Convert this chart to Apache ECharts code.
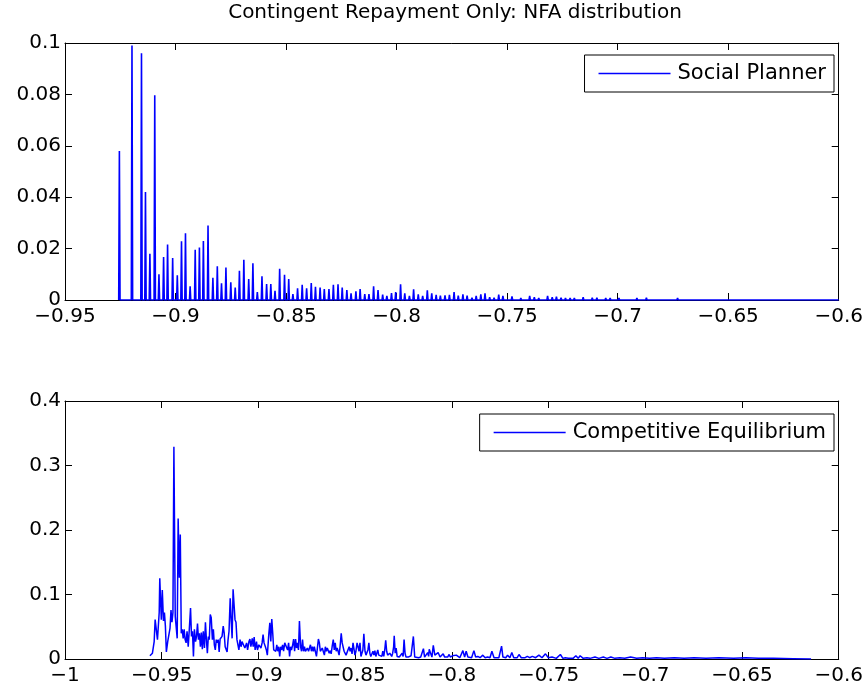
<!DOCTYPE html>
<html><head><meta charset="utf-8">
<script src="https://cdn.jsdelivr.net/npm/echarts@6/dist/echarts.min.js"></script>
<style>html,body{margin:0;padding:0;background:#fff}#c{width:866px;height:694px}</style>
</head><body><div id="c"></div>
<script>
// ---------- DATA ----------
const chartTitle = 'Contingent Repayment Only: NFA distribution';
const seriesNames = ['Social Planner', 'Competitive Equilibrium'];

const topXTicks = [-0.95, -0.9, -0.85, -0.8, -0.75, -0.7, -0.65, -0.6];
const topYTicks = [0, 0.02, 0.04, 0.06, 0.08, 0.1];
const botXTicks = [-1, -0.95, -0.9, -0.85, -0.8, -0.75, -0.7, -0.65, -0.6];
const botYTicks = [0, 0.1, 0.2, 0.3, 0.4];

// Social planner: mass points (NFA value, probability)
const spX = [-0.9254,-0.9197,-0.9154,-0.9136,-0.9116,-0.9094,-0.9075,-0.9054,-0.9036,-0.9013,
-0.8992,-0.8973,-0.8955,-0.8934,-0.8911,-0.8892,-0.8874,-0.8853,-0.8831,-0.8811,
-0.8792,-0.8772,-0.8750,-0.8730,-0.8711,-0.8691,-0.8669,-0.8650,-0.8630,-0.8609,
-0.8588,-0.8569,-0.8550,-0.8529,-0.8507,-0.8488,-0.8469,-0.8448,-0.8427,-0.8407,
-0.8386,-0.8367,-0.8346,-0.8327,-0.8306,-0.8286,-0.8265,-0.8246,-0.8225,-0.8206,
-0.8184,-0.8165,-0.8144,-0.8125,-0.8104,-0.8084,-0.8063,-0.8044,-0.8023,-0.8004,
-0.7982,-0.7963,-0.7942,-0.7923,-0.7902,-0.7882,-0.7861,-0.7841,-0.7821,-0.7802,
-0.7781,-0.7761,-0.7740,-0.7721,-0.7700,-0.7681,-0.7659,-0.7640,-0.7619,-0.7600,
-0.7579,-0.7559,-0.7538,-0.7519,-0.7478,-0.7457,-0.7438,-0.7417,-0.7398,-0.7377,
-0.7357,-0.7336,-0.7317,-0.7296,-0.7277,-0.7256,-0.7236,-0.7215,-0.7196,-0.7175,
-0.7156,-0.7134,-0.7115,-0.7094,-0.7075,-0.7054,-0.7034,-0.6994,-0.6975,-0.6954,
-0.6934,-0.6913,-0.6892,-0.6870,-0.6832,-0.6810,-0.6791,-0.6771,-0.6729,-0.6710,
-0.6690,-0.6629,-0.6607,-0.6568,-0.6487,-0.6406,-0.6366,-0.6204,-0.6143,-0.6062,
-0.6025];
const spY = [0.058,0.099,0.096,0.042,0.018,0.0797,0.010,0.0167,0.0216,0.0163,
0.0096,0.0229,0.026,0.0053,0.0195,0.0204,0.023,0.029,0.0086,0.0131,
0.0065,0.0126,0.0069,0.0048,0.0114,0.0157,0.0082,0.0143,0.0031,0.0092,
0.0062,0.0062,0.0036,0.0122,0.0098,0.0082,0.0023,0.0046,0.0059,0.0046,
0.0066,0.0051,0.0048,0.0043,0.0043,0.0059,0.0061,0.0048,0.0039,0.0026,
0.0034,0.0043,0.0023,0.0023,0.0053,0.0039,0.0021,0.0016,0.0027,0.0031,
0.0061,0.0026,0.0016,0.0042,0.0022,0.0016,0.0038,0.0026,0.0020,0.0017,
0.0018,0.002,0.0031,0.0017,0.0022,0.0017,0.0009,0.0016,0.0022,0.0026,
0.0011,0.0009,0.0021,0.0016,0.0014,0.0004,0.0008,0.0005,0.0016,0.0011,
0.0008,0.0005,0.0016,0.0011,0.0013,0.0009,0.0008,0.0008,0.0008,0.0007,
0.0011,0.0003,0.0009,0.0009,0.0004,0.0008,0.0008,0.0008,0.0007,0.0007,
0.0004,0.0008,0.0003,0.0009,0.0004,0.0003,0.0004,0.0004,0.0008,0.0003,
0.0004,0.0004,0.0002,0.0002,0.0002,0.0002,0.0001,0.0004,0.0001,0.0001,
0.0007];
const spGridEnd = -0.6;   // last grid point of the planner's distribution (value 0)

// Competitive equilibrium: density on the NFA grid
const ceX = [-0.9561,-0.9548,-0.9539,-0.9534,-0.9527,-0.9522,-0.9517,-0.9513,-0.9510,-0.9505,
-0.9502,-0.9497,-0.9491,-0.9486,-0.9481,-0.9476,-0.9469,-0.9462,-0.9457,-0.9452,
-0.9447,-0.9442,-0.9437,-0.9430,-0.9425,-0.9420,-0.9415,-0.9409,-0.9404,-0.9399,
-0.9394,-0.9389,-0.9384,-0.9379,-0.9374,-0.9369,-0.9363,-0.9358,-0.9351,-0.9346,
-0.9341,-0.9336,-0.9331,-0.9325,-0.9320,-0.9315,-0.9310,-0.9305,-0.9300,-0.9295,
-0.9290,-0.9285,-0.9279,-0.9274,-0.9269,-0.9264,-0.9259,-0.9254,-0.9249,-0.9244,
-0.9238,-0.9233,-0.9228,-0.9223,-0.9218,-0.9213,-0.9208,-0.9203,-0.9198,-0.9193,
-0.9188,-0.9182,-0.9177,-0.9172,-0.9167,-0.9162,-0.9157,-0.9152,-0.9146,-0.9141,
-0.9136,-0.9131,-0.9126,-0.9121,-0.9116,-0.9111,-0.9106,-0.9101,-0.9095,-0.9090,
-0.9085,-0.9080,-0.9078,-0.9070,-0.9061,-0.9056,-0.9049,-0.9044,-0.9039,-0.9032,
-0.9027,-0.9022,-0.9017,-0.9010,-0.9005,-0.8998,-0.8993,-0.8987,-0.8981,-0.8976,
-0.8971,-0.8964,-0.8959,-0.8954,-0.8946,-0.8941,-0.8936,-0.8931,-0.8926,-0.8921,
-0.8916,-0.8910,-0.8905,-0.8900,-0.8895,-0.8890,-0.8885,-0.8880,-0.8875,-0.8870,
-0.8864,-0.8859,-0.8854,-0.8849,-0.8844,-0.8839,-0.8834,-0.8829,-0.8823,-0.8818,
-0.8813,-0.8808,-0.8803,-0.8798,-0.8793,-0.8788,-0.8782,-0.8777,-0.8772,-0.8767,
-0.8762,-0.8757,-0.8752,-0.8747,-0.8741,-0.8736,-0.8731,-0.8726,-0.8721,-0.8716,
-0.8711,-0.8706,-0.8700,-0.8695,-0.8690,-0.8685,-0.8680,-0.8675,-0.8670,-0.8665,
-0.8659,-0.8654,-0.8649,-0.8644,-0.8639,-0.8634,-0.8629,-0.8624,-0.8619,-0.8613,
-0.8608,-0.8603,-0.8598,-0.8593,-0.8588,-0.8583,-0.8578,-0.8572,-0.8567,-0.8562,
-0.8557,-0.8552,-0.8547,-0.8542,-0.8537,-0.8531,-0.8526,-0.8521,-0.8516,-0.8511,
-0.8506,-0.8501,-0.8496,-0.8490,-0.8485,-0.8480,-0.8475,-0.8470,-0.8465,-0.8460,
-0.8455,-0.8449,-0.8444,-0.8439,-0.8434,-0.8429,-0.8424,-0.8419,-0.8414,-0.8408,
-0.8403,-0.8398,-0.8393,-0.8388,-0.8383,-0.8378,-0.8373,-0.8368,-0.8362,-0.8357,
-0.8352,-0.8347,-0.8342,-0.8337,-0.8332,-0.8327,-0.8321,-0.8316,-0.8311,-0.8306,
-0.8301,-0.8298,-0.8293,-0.8288,-0.8283,-0.8278,-0.8272,-0.8267,-0.8262,-0.8257,
-0.8252,-0.8247,-0.8242,-0.8237,-0.8231,-0.8226,-0.8221,-0.8216,-0.8211,-0.8205,
-0.8199,-0.8192,-0.8182,-0.8172,-0.8161,-0.8147,-0.8141,-0.8131,-0.8125,-0.8120,
-0.8117,-0.8110,-0.8103,-0.8096,-0.8088,-0.8079,-0.8071,-0.8061,-0.8045,-0.8037,
-0.8028,-0.8022,-0.8014,-0.8008,-0.7997,-0.7987,-0.7977,-0.7968,-0.7959,-0.7943,
-0.7934,-0.7926,-0.7917,-0.7909,-0.7898,-0.7886,-0.7877,-0.7866,-0.7854,-0.7840,
-0.7828,-0.7815,-0.7803,-0.7793,-0.7782,-0.7772,-0.7757,-0.7743,-0.7736,-0.7730,
-0.7721,-0.7712,-0.7700,-0.7690,-0.7680,-0.7673,-0.7662,-0.7653,-0.7641,-0.7632,
-0.7621,-0.7610,-0.7598,-0.7584,-0.7567,-0.7550,-0.7534,-0.7516,-0.7501,-0.7482,
-0.7460,-0.7439,-0.7426,-0.7414,-0.7398,-0.7388,-0.7373,-0.7359,-0.7347,-0.7337,
-0.7321,-0.7302,-0.7286,-0.7260,-0.7240,-0.7217,-0.7198,-0.7178,-0.7157,-0.7132,
-0.7106,-0.7076,-0.7045,-0.7014,-0.6978,-0.6942,-0.6901,-0.6850,-0.6799,-0.6748,
-0.6686,-0.6620,-0.6543,-0.6481,-0.6415,-0.6338,-0.6236,-0.6143];
const ceY = [0.005,0.009,0.027,0.061,0.059,0.030,0.032,0.072,0.125,0.124,
0.061,0.107,0.059,0.072,0.051,0.011,0.027,0.027,0.048,0.076,
0.057,0.072,0.329,0.066,0.066,0.032,0.218,0.126,0.193,0.040,
0.046,0.032,0.046,0.030,0.025,0.043,0.019,0.043,0.079,0.035,
0.043,0.004,0.046,0.027,0.035,0.055,0.030,0.040,0.019,0.041,
0.015,0.043,0.017,0.057,0.030,0.009,0.035,0.030,0.069,0.064,
0.030,0.046,0.022,0.014,0.030,0.025,0.030,0.011,0.031,0.030,
0.035,0.051,0.040,0.019,0.017,0.011,0.030,0.043,0.094,0.061,
0.032,0.108,0.106,0.061,0.057,0.030,0.032,0.014,0.030,0.019,
0.027,0.025,0.025,0.017,0.025,0.014,0.027,0.031,0.019,0.032,
0.019,0.034,0.014,0.027,0.014,0.022,0.019,0.017,0.025,0.038,
0.025,0.019,0.014,0.006,0.040,0.056,0.027,0.062,0.040,0.014,
0.017,0.012,0.022,0.012,0.019,0.004,0.019,0.014,0.022,0.012,
0.025,0.025,0.027,0.014,0.025,0.004,0.019,0.014,0.022,0.031,
0.012,0.031,0.017,0.025,0.014,0.059,0.019,0.012,0.030,0.012,
0.019,0.012,0.014,0.017,0.012,0.014,0.022,0.012,0.019,0.012,
0.019,0.012,0.004,0.003,0.031,0.025,0.012,0.009,0.017,0.012,
0.006,0.019,0.012,0.017,0.014,0.009,0.013,0.008,0.019,0.030,
0.014,0.025,0.012,0.017,0.012,0.006,0.019,0.040,0.025,0.022,
0.012,0.009,0.006,0.004,0.009,0.019,0.012,0.017,0.008,0.025,
0.027,0.006,0.012,0.025,0.019,0.012,0.025,0.004,0.006,0.014,
0.039,0.012,0.006,0.004,0.014,0.025,0.009,0.004,0.006,0.012,
0.006,0.013,0.004,0.006,0.014,0.006,0.004,0.006,0.004,0.012,
0.004,0.014,0.029,0.012,0.006,0.004,0.009,0.006,0.004,0.009,
0.019,0.036,0.009,0.017,0.004,0.006,0.003,0.004,0.006,0.009,
0.004,0.030,0.009,0.003,0.005,0.003,0.004,0.003,0.005,0.003,
0.035,0.003,0.004,0.002,0.003,0.016,0.003,0.004,0.010,0.004,
0.015,0.009,0.003,0.021,0.006,0.003,0.010,0.003,0.008,0.003,
0.006,0.003,0.007,0.003,0.005,0.002,0.006,0.007,0.002,0.013,
0.003,0.012,0.003,0.005,0.002,0.013,0.003,0.004,0.002,0.006,
0.002,0.003,0.002,0.012,0.002,0.004,0.002,0.020,0.003,0.004,
0.002,0.006,0.002,0.010,0.002,0.005,0.002,0.007,0.002,0.005,
0.002,0.004,0.002,0.004,0.002,0.006,0.002,0.008,0.002,0.003,
0.001,0.007,0.001,0.002,0.001,0.003,0.001,0.005,0.001,0.005,
0.001,0.002,0.001,0.003,0.001,0.003,0.001,0.003,0.001,0.002,
0.001,0.003,0.001,0.002,0.001,0.002,0.001,0.002,0.001,0.002,
0.001,0.002,0.001,0.002,0.001,0.001,0.0005,0];

// ---------- STYLE ----------
const BLUE = '#0000ff';
const FONT = 'DejaVu Sans';
const TICK_FS = 20;
const spikeHalf = 0.0003;

function fmt(v) { return String(+(+v).toFixed(4)).replace('-', '\u2212'); }
function step(t) { return +(t[1] - t[0]).toFixed(6); }

function xPair(grid, ticks) {
  const base = { type: 'value', gridIndex: grid, min: ticks[0], max: ticks[ticks.length - 1], interval: step(ticks),
    splitLine: { show: false }, axisLine: { show: true, onZero: false, lineStyle: { color: '#000', width: 1 } },
    axisTick: { show: true, inside: true, length: 7, lineStyle: { color: '#000', width: 1 } } };
  return [
    Object.assign({}, base, { position: 'bottom', axisLabel: { formatter: fmt, color: '#000', fontSize: TICK_FS, fontFamily: FONT, margin: 7, showMinLabel: true, showMaxLabel: true } }),
    Object.assign({}, base, { position: 'top', axisLabel: { show: false } })
  ];
}
function yPair(grid, ticks) {
  const base = { type: 'value', gridIndex: grid, min: ticks[0], max: ticks[ticks.length - 1], interval: step(ticks),
    splitLine: { show: false }, axisLine: { show: true, onZero: false, lineStyle: { color: '#000', width: 1 } },
    axisTick: { show: true, inside: true, length: 7, lineStyle: { color: '#000', width: 1 } } };
  return [
    Object.assign({}, base, { position: 'left', axisLabel: { formatter: fmt, color: '#000', fontSize: TICK_FS, fontFamily: FONT, margin: 4, showMinLabel: true, showMaxLabel: true } }),
    Object.assign({}, base, { position: 'right', axisLabel: { show: false } })
  ];
}

const topData = [];
for (let i = 0; i < Math.min(spX.length, spY.length); i++) {
  topData.push([spX[i] - spikeHalf, 0], [spX[i], spY[i]], [spX[i] + spikeHalf, 0]);
}
topData.push([spGridEnd, 0]);
const botData = [];
for (let i = 0; i < Math.min(ceX.length, ceY.length); i++) botData.push([ceX[i], ceY[i]]);

function legendFor(name, top) {
  return { data: [name], right: 32, top: top, orient: 'horizontal', selectedMode: false,
    backgroundColor: '#fff', borderColor: '#000', borderWidth: 1, borderRadius: 0,
    padding: [8, 8, 8, 14], itemWidth: 72, itemHeight: 1.5, icon: 'rect', itemGap: 0,
    textStyle: { color: '#000', fontSize: 21, fontFamily: FONT, padding: [0, 0, 0, 2] } };
}

const chart = echarts.init(document.getElementById('c'), null, { renderer: 'canvas' });
chart.setOption({
  animation: false,
  backgroundColor: '#fff',
  title: { text: chartTitle, left: 455, top: 3, textAlign: 'center', padding: 0,
    textStyle: { color: '#000', fontSize: 20, fontWeight: 'normal', fontFamily: FONT } },
  grid: [
    { left: 65, top: 43, width: 780, height: 257, containLabel: false },
    { left: 65, top: 401, width: 780, height: 258, containLabel: false }
  ],
  xAxis: xPair(0, topXTicks).concat(xPair(1, botXTicks)),
  yAxis: yPair(0, topYTicks).concat(yPair(1, botYTicks)),
  legend: [legendFor(seriesNames[0], 55), legendFor(seriesNames[1], 414)],
  series: [
    { name: seriesNames[0], type: 'line', xAxisIndex: 0, yAxisIndex: 0, data: topData, symbol: 'none',
      color: BLUE, lineStyle: { color: BLUE, width: 1.6 }, z: 3 },
    { name: seriesNames[1], type: 'line', xAxisIndex: 2, yAxisIndex: 2, data: botData, symbol: 'none',
      color: BLUE, lineStyle: { color: BLUE, width: 1.5 }, z: 3 }
  ]
});
</script></body></html>
